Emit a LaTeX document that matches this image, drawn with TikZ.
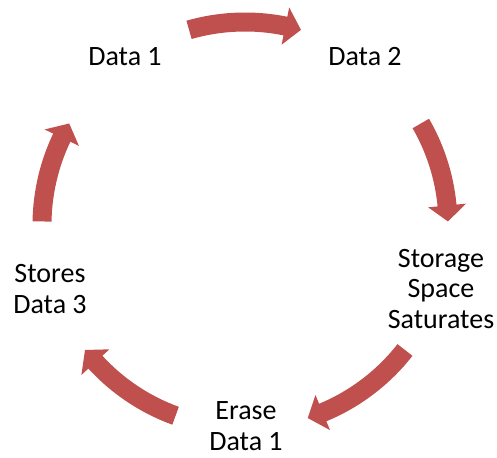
\documentclass[tikz,border=0pt]{standalone}
\usepackage{fontspec}
\setmainfont{Carlito}
\usetikzlibrary{calc}
\definecolor{arrowred}{RGB}{192,80,77}

% Curved block arrow around the hub, running clockwise from #1 to #2 (degrees)
\newcommand\cyclearrow[2]{%
  \pgfmathsetmacro\headang{#2+16/203*57.2958}%
  \fill[arrowred]
    ($(hub)+(#1:212.5pt)$) arc[start angle=#1, end angle=\headang, radius=212.5pt]
    -- ($(hub)+(\headang:222pt)$)
    -- ($(hub)+(#2:203pt)$)
    -- ($(hub)+(\headang:184pt)$)
    -- ($(hub)+(\headang:193.5pt)$)
    arc[start angle=\headang, end angle=#1, radius=193.5pt]
    -- cycle;
}

\begin{document}
\begin{tikzpicture}[
  label/.style={font=\fontsize{28}{30.5}\selectfont, align=center, inner sep=0pt}
]
\useasboundingbox (0pt,0pt) rectangle (497pt,457pt);
\coordinate (hub) at (245pt,232pt);

% steps of the cycle
\node[label] (d1) at (125pt,400pt) {Data 1};
\node[label] (d2) at (365pt,400pt) {Data 2};
\node[label] (sat) at (441pt,168pt) {Storage\\Space\\Saturates};
\node[label] (erase) at (246pt,31pt) {Erase\\Data 1};
\node[label] (store) at (50pt,168pt) {Stores\\Data 3};

% arrows between steps
\cyclearrow{106}{74}
\cyclearrow{30}{1}
\cyclearrow{-38}{-72}
\cyclearrow{-110}{-142}
\cyclearrow{179}{150}
\end{tikzpicture}
\end{document}
